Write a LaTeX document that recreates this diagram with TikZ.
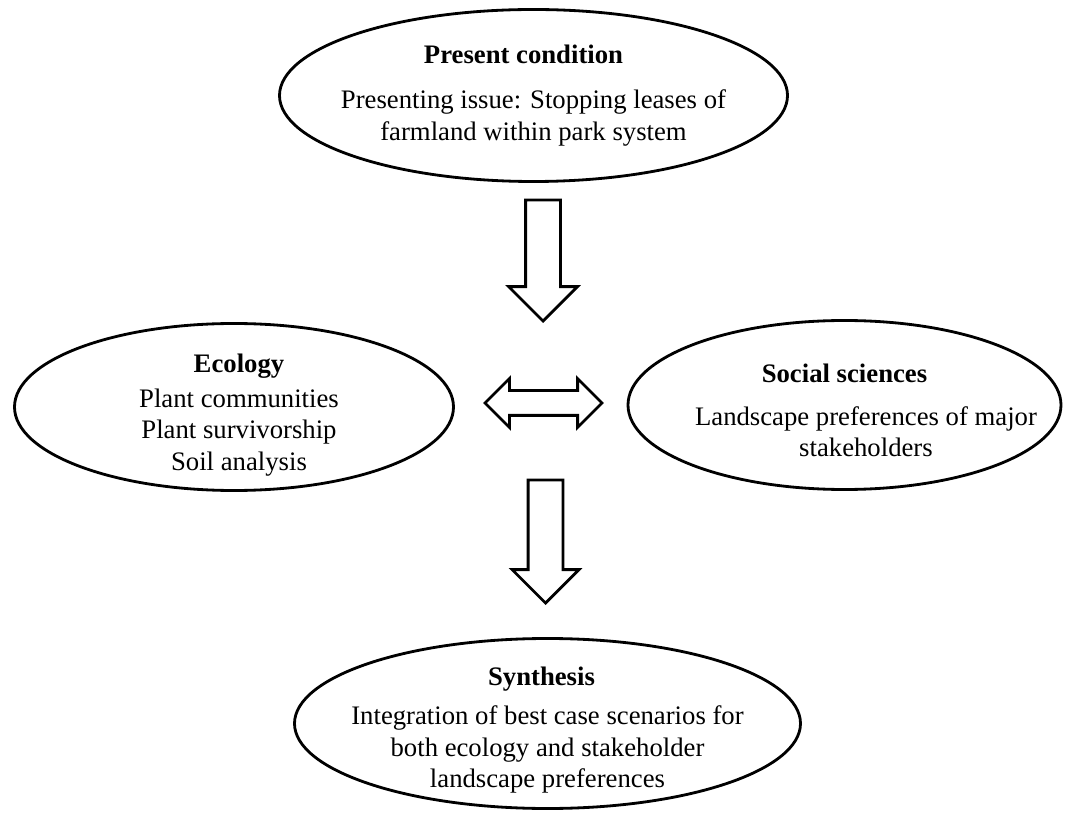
\documentclass[tikz,border=0pt]{standalone}
\usepackage{fontspec}
\setmainfont{Liberation Serif}
\usetikzlibrary{shapes.geometric,shapes.arrows}

\begin{document}
\begin{tikzpicture}[
    oval/.style={draw, ellipse, line width=1.6pt, inner sep=0pt},
    txt/.style={align=center, inner sep=0pt, font=\fontsize{15.2}{18}\selectfont},
    downarr/.style={draw, single arrow, line width=1.6pt, shape border rotate=270, single arrow head indent=0pt, single arrow tip angle=90, anchor=tip},
    sidearr/.style={draw, double arrow, line width=1.6pt, double arrow head indent=0pt, double arrow tip angle=90}
]
\useasboundingbox (0,0) rectangle (21.3,-16.26);

\node[oval, minimum width=10.16cm, minimum height=3.44cm] (pres) at (10.67,-1.91) {};
\node[txt] (prestxt) at (pres)
    {\textbf{Present condition}\hspace*{0.4cm}\\[0.28cm]Presenting issue: Stopping leases of\\farmland within park system};

\node[oval, minimum width=8.78cm, minimum height=3.34cm] (eco) at (4.68,-8.14) {};
\node[txt, xshift=0.1cm, yshift=-0.16cm] (ecotxt) at (eco)
    {\textbf{Ecology}\\[0.06cm]Plant communities\\Plant survivorship\\Soil analysis};

\node[oval, minimum width=8.66cm, minimum height=3.38cm] (soc) at (16.89,-8.10) {};
\node[txt, yshift=-0.11cm] (soctxt) at (soc)
    {\textbf{Social sciences}\\[0.22cm]\hspace*{0.86cm}Landscape preferences of major\\\hspace*{0.86cm}stakeholders};

\node[oval, minimum width=10.12cm, minimum height=3.40cm] (syn) at (10.95,-14.47) {};
\node[txt, yshift=-0.14cm] (syntxt) at (syn)
    {\textbf{Synthesis}\hspace*{0.24cm}\\[0.14cm]Integration of best case scenarios for\\both ecology and stakeholder\\landscape preferences};

% block arrows between the ovals
\node[downarr, inner sep=0.32cm, minimum height=2.42cm, minimum width=1.32cm, single arrow head extend=0.34cm] (a1) at (10.86,-6.46) {};
\node[sidearr, inner sep=0.22cm, minimum height=2.34cm, minimum width=0.92cm, double arrow head extend=0.24cm] (a2) at (10.87,-8.06) {};
\node[downarr, inner sep=0.32cm, minimum height=2.46cm, minimum width=1.30cm, single arrow head extend=0.32cm] (a3) at (10.91,-12.10) {};
\end{tikzpicture}
\end{document}
